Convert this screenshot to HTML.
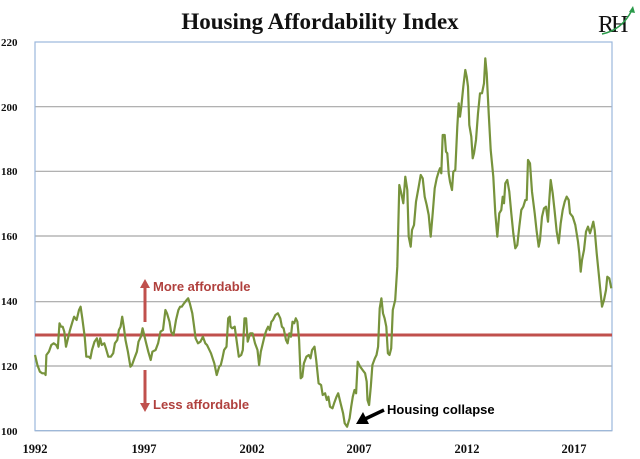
<!DOCTYPE html>
<html><head><meta charset="utf-8"><style>
html,body{margin:0;padding:0;background:#fff;}
svg{display:block;}
</style></head><body>
<svg id="s" width="640" height="459" xmlns="http://www.w3.org/2000/svg">
<text x="320" y="29" text-anchor="middle" font-family="Liberation Serif, serif" font-weight="bold" font-size="23" fill="#111">Housing Affordability Index</text>
<text x="598" y="32" font-family="Liberation Serif, serif" font-size="24" fill="#111" letter-spacing="-3">RH</text>
<path d="M602 34 Q622 30 632 10" stroke="#2a9a4a" stroke-width="1.5" fill="none"/>
<path d="M629 12 L633 6 L635 13 Z" fill="#2a9a4a"/>
<g stroke="#a6a6a6" stroke-width="1.2">
<line x1="35" y1="106.7" x2="612" y2="106.7"/>
<line x1="35" y1="171.3" x2="612" y2="171.3"/>
<line x1="35" y1="236" x2="612" y2="236"/>
<line x1="35" y1="301.7" x2="612" y2="301.7"/>
<line x1="35" y1="366" x2="612" y2="366"/>
<line x1="35" y1="430.7" x2="612" y2="430.7"/>
</g>
<rect x="35" y="42" width="577" height="388.7" fill="none" stroke="#9bb7db" stroke-width="1.2"/>
<g font-family="Liberation Serif, serif" font-weight="bold" font-size="11" fill="#111">
<text x="1" y="46">220</text><text x="1" y="111">200</text><text x="1" y="175">180</text>
<text x="1" y="240">160</text><text x="1" y="305">140</text><text x="1" y="370">120</text><text x="1" y="435">100</text>
</g>
<g font-family="Liberation Serif, serif" font-weight="bold" font-size="12.5" fill="#111" text-anchor="middle">
<text x="35" y="453">1992</text><text x="144" y="453">1997</text><text x="252" y="453">2002</text>
<text x="359" y="453">2007</text><text x="467" y="453">2012</text><text x="574" y="453">2017</text>
</g>
<line x1="35" y1="335" x2="612" y2="335" stroke="#c0504d" stroke-width="3"/>
<polyline id="p" fill="none" stroke="#77933c" stroke-width="2.2" stroke-linejoin="round"/>
<g fill="#c0504d" stroke="#c0504d">
<line x1="145" y1="322" x2="145" y2="286" stroke-width="3"/>
<path d="M140 288 L145 279 L150 288 Z" stroke="none"/>
<line x1="145" y1="370" x2="145" y2="405" stroke-width="3"/>
<path d="M140 403 L145 412 L150 403 Z" stroke="none"/>
</g>
<g font-family="Liberation Sans, sans-serif" font-weight="bold" font-size="13" fill="#b0403d">
<text x="153" y="291">More affordable</text>
<text x="153" y="409">Less affordable</text>
</g>
<text x="387" y="414" font-family="Liberation Sans, sans-serif" font-weight="bold" font-size="13" fill="#000">Housing collapse</text>
<line x1="384" y1="410" x2="365" y2="419" stroke="#000" stroke-width="3.5"/>
<path d="M356 424 L363 412 L369 424 Z" fill="#000"/>
</svg>
<script>
var a=[[84,285],[90,315],[96,335],[102,340],[108,340],[110,345],[112,285],[118,275],[124,255],[130,250],[136,255],[140,265],[144,190],[148,200],[152,200],[156,215],[160,260],[164,240],[170,210],[176,185],[180,170],[186,180],[192,150],[196,140],[200,175],[206,230],[210,290],[216,290],[220,295],[224,270],[230,245],[236,235],[240,260],[244,235],[248,255],[254,250],[258,265],[264,290],[270,290],[276,280],[280,250],[286,240],[290,210],[294,200],[298,170],[302,200],[306,240],[312,275],[318,320],[322,315],[328,295],[334,275],[338,245],[344,230],[348,205],[352,225],[356,245],[362,275],[368,300],[372,275],[380,270],[386,250],[392,215],[398,210],[404,150],[408,160],[414,185],[418,215],[424,225],[430,180],[436,150],[440,140],[444,140],[450,130],[456,120],[460,115],[464,130],[470,160],[474,195],[478,235],[484,250],[490,245],[496,230],[502,250],[506,255],[510,265],[516,280],[524,310],[530,345],[536,320],[540,315],[544,295],[548,270],[554,260],[558,175],[562,170],[564,200],[568,205],[574,200],[578,235],[584,290],[590,285],[594,270],[598,175],[602,175],[606,245],[612,220],[618,220],[624,250],[630,270],[634,315],[638,275],[644,245],[648,225],[652,210],[656,200],[660,210],[664,185],[668,180],[674,165],[680,160],[686,175],[690,200],[694,205],[700,240],[704,250],[708,220],[712,230],[716,185],[720,190],[724,175],[728,185],[732,240],[736,355],[740,350],[744,310],[750,290],[756,285],[760,295],[764,270],[770,260],[774,300],[780,370],[786,375],[790,405],[796,400],[800,420],[804,410],[808,440],[814,445],[818,430],[824,410],[828,400],[834,430],[840,460],[844,490],[850,500],[856,475],[860,440],[864,410],[868,390],[872,400],[876,305],[882,320],[888,330],[894,340],[898,365],[900,420],[904,435],[908,380],[912,315],[918,295],[922,285],[926,260],[930,145],[934,115],[938,160],[942,175],[946,200],[950,280],[954,285],[958,265],[962,150],[968,120]];
var b=[[172,680],[178,435],[184,460],[190,490],[196,410],[202,450],[206,590],[212,620],[216,570],[222,555],[228,485],[236,440],[242,405],[248,415],[254,470],[260,495],[266,525],[272,590],[278,520],[284,445],[290,415],[296,395],[300,385],[304,400],[308,285],[314,285],[318,335],[322,340],[326,400],[330,425],[336,450],[340,395],[346,390],[352,260],[356,190],[360,230],[364,200],[370,140],[376,90],[380,110],[384,140],[388,255],[394,290],[398,355],[402,340],[408,300],[414,220],[420,160],[426,160],[432,130],[436,55],[440,100],[446,220],[452,330],[460,410],[466,520],[472,590],[478,520],[484,510],[488,470],[492,490],[496,430],[502,420],[508,455],[514,520],[520,580],[526,625],[532,615],[538,560],[544,510],[550,500],[556,480],[560,480],[564,360],[570,370],[576,455],[584,520],[590,575],[596,620],[600,600],[606,530],[612,505],[618,500],[624,545],[628,480],[632,420],[638,460],[644,515],[650,575],[656,610],[662,550],[668,510],[674,485],[680,470],[686,480],[690,520],[698,530],[706,555],[714,605],[718,640],[722,695],[726,660],[732,630],[738,575],[744,560],[750,580],[756,560],[760,545],[764,570],[770,640],[776,700],[780,740],[786,800],[792,780],[798,750],[802,710],[808,715],[814,745]];
var pts=[];
a.forEach(function(p){pts.push((35+(p[0]-84)*0.4075).toFixed(1)+","+(260+p[1]/3).toFixed(1));});
b.forEach(function(p){pts.push((340+p[0]/3).toFixed(1)+","+(40+p[1]/3).toFixed(1));});
document.getElementById("p").setAttribute("points",pts.join(" "));
</script>
</body></html>
